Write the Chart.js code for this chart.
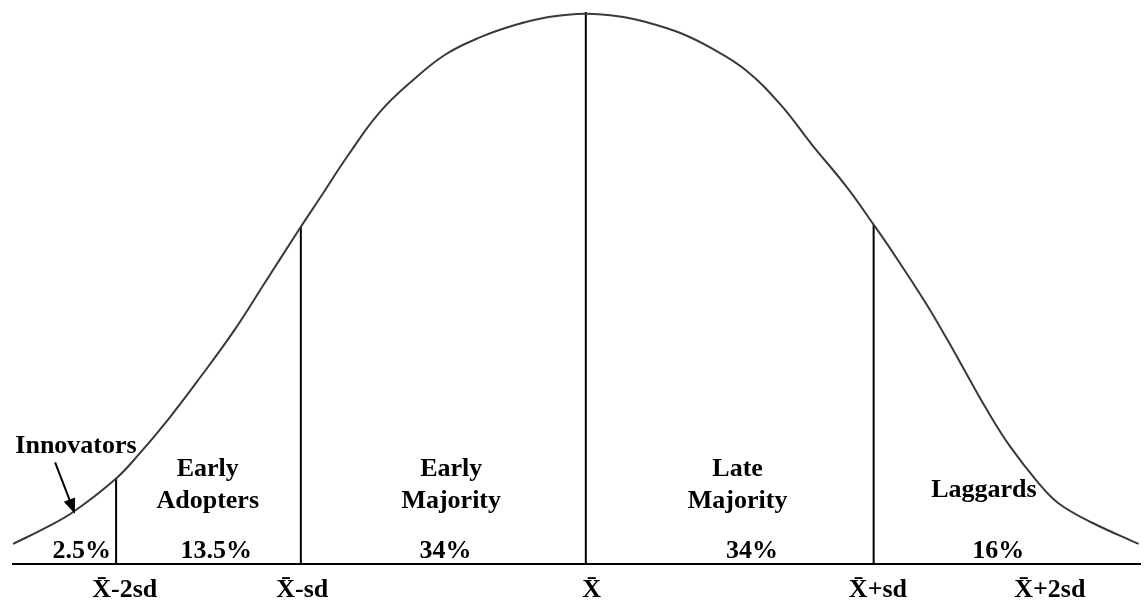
<!DOCTYPE html>
<html>
<head>
<meta charset="utf-8">
<title>Adopter categories</title>
<script src="https://cdn.jsdelivr.net/npm/chart.js@4.4.1/dist/chart.umd.min.js"></script>
<style>
  body { margin: 0; background: #fff; }
  #wrap { width: 1146px; height: 606px; }
</style>
</head>
<body>
<div id="wrap"><canvas id="bell"></canvas></div>
<script>
// x = distance from the mean in sd, y = height as % of the peak
const curveX = [-2.00, -1.88, -1.79, -1.64, -1.56, -1.46, -1.35, -1.23, -1.12, -0.995, -0.93, -0.83, -0.72, -0.60, -0.49, -0.37, -0.25, -0.13, 0,
  0.12, 0.21, 0.33, 0.44, 0.56, 0.68, 0.79, 0.91, 1.005, 1.07, 1.19, 1.26, 1.31, 1.40, 1.48, 1.58, 1.65, 1.77, 1.93];
const curveY = [3.7, 6.8, 9.5, 15.6, 20.0, 26.2, 33.7, 42.3, 51.2, 61.3, 66.4, 74.3, 82.1, 88.1, 92.6, 95.7, 97.9, 99.4, 100,
  99.5, 98.5, 96.5, 93.7, 89.7, 83.5, 76.2, 68.6, 61.7, 56.8, 47.2, 41.0, 36.4, 28.1, 21.5, 14.8, 11.1, 7.5, 3.7];

// category boundaries and how high they reach
const boundaryX = [-1.64, -0.995, 0, 1.005];
const boundaryTop = [15.6, 61.3, 100.3, 61.7];

// axis labels
const tickX = [-1.61, -0.99, 0.02, 1.02, 1.62];
const tickLabels = ['X\u0304-2sd', 'X\u0304-sd', 'X\u0304', 'X\u0304+sd', 'X\u0304+2sd'];

// categories
const groupNames = [['Innovators'], ['Early', 'Adopters'], ['Early', 'Majority'], ['Late', 'Majority'], ['Laggards']];
const groupShares = [2.5, 13.5, 34, 34, 16];
const nameX = [-1.78, -1.32, -0.47, 0.53, 1.39];
const nameY = [20.3, 16.1, 16.1, 16.1, 12.3];
const shareX = [-1.76, -1.29, -0.49, 0.58, 1.44];
const shareY = 1.1;
const arrowFrom = [-1.853, 18.5];
const arrowTo = [-1.784, 9.2];

const FONT = 'bold 26px "Liberation Serif", "Times New Roman", serif';

const datasets = [{
  data: curveX.map((x, i) => ({ x: x, y: curveY[i] })),
  borderColor: '#3a3a3a',
  borderWidth: 2,
  pointRadius: 0,
  tension: 0.4
}];
boundaryX.forEach((bx, i) => {
  datasets.push({
    data: [{ x: bx, y: 0 }, { x: bx, y: boundaryTop[i] }],
    borderColor: '#000',
    borderWidth: 2,
    pointRadius: 0
  });
});

// texts and arrow inside the plot
const groupLabels = {
  id: 'groupLabels',
  afterDatasetsDraw(chart) {
    const { ctx, scales: { x, y } } = chart;
    ctx.save();
    ctx.fillStyle = '#000';
    ctx.font = FONT;
    ctx.textAlign = 'center';
    ctx.textBaseline = 'alphabetic';
    groupNames.forEach((lines, i) => {
      lines.forEach((t, j) => {
        ctx.fillText(t, x.getPixelForValue(nameX[i]), y.getPixelForValue(nameY[i]) + j * 32);
      });
    });
    groupShares.forEach((v, i) => {
      ctx.fillText(v + '%', x.getPixelForValue(shareX[i]), y.getPixelForValue(shareY));
    });

    // arrow from "Innovators" to the tail
    const x0 = x.getPixelForValue(arrowFrom[0]), y0 = y.getPixelForValue(arrowFrom[1]);
    const x1 = x.getPixelForValue(arrowTo[0]), y1 = y.getPixelForValue(arrowTo[1]);
    const a = Math.atan2(y1 - y0, x1 - x0);
    ctx.strokeStyle = '#000';
    ctx.lineWidth = 2;
    ctx.beginPath();
    ctx.moveTo(x0, y0);
    ctx.lineTo(x1 - 8 * Math.cos(a), y1 - 8 * Math.sin(a));
    ctx.stroke();
    ctx.beginPath();
    ctx.moveTo(x1, y1);
    ctx.lineTo(x1 - 15 * Math.cos(a) + 6 * Math.sin(a), y1 - 15 * Math.sin(a) - 6 * Math.cos(a));
    ctx.lineTo(x1 - 15 * Math.cos(a) - 6 * Math.sin(a), y1 - 15 * Math.sin(a) + 6 * Math.cos(a));
    ctx.closePath();
    ctx.fill();
    ctx.restore();
  }
};

new Chart(document.getElementById('bell'), {
  type: 'line',
  data: { datasets: datasets },
  options: {
    responsive: true,
    maintainAspectRatio: false,
    animation: false,
    layout: { padding: { left: 13, right: 6, top: 0, bottom: -9.5 } },
    plugins: { legend: { display: false }, tooltip: { enabled: false } },
    scales: {
      x: {
        type: 'linear',
        min: -2.0,
        max: 1.935,
        grid: { display: false, drawTicks: false },
        border: { display: true, color: '#000', width: 2 },
        afterBuildTicks: (scale) => { scale.ticks = tickX.map(v => ({ value: v })); },
        ticks: {
          autoSkip: false,
          maxRotation: 0,
          padding: 10,
          color: '#000',
          font: { family: '"Liberation Serif", "Times New Roman", serif', size: 26, weight: 'bold' },
          callback: (value, index) => tickLabels[index]
        }
      },
      y: {
        display: false,
        min: 0,
        max: 102.5
      }
    }
  },
  plugins: [groupLabels]
});
</script>
</body>
</html>
